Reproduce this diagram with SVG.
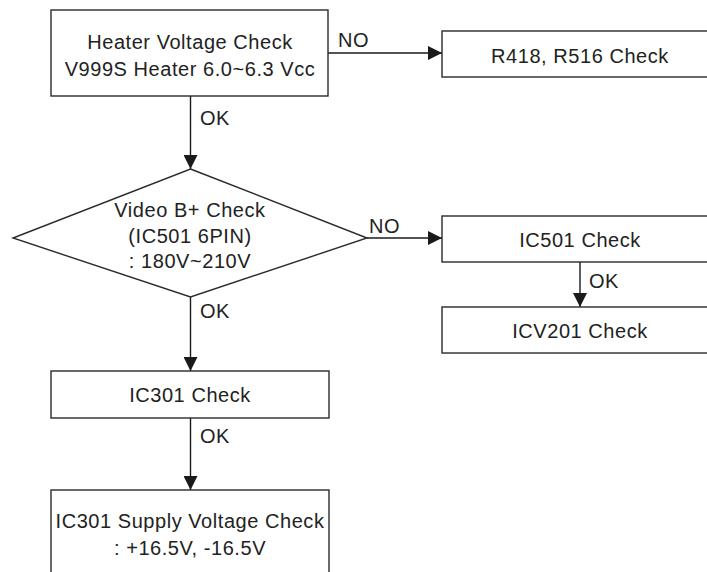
<svg xmlns="http://www.w3.org/2000/svg" width="707" height="572" viewBox="0 0 707 572">
<defs>
<marker id="ah" markerUnits="userSpaceOnUse" markerWidth="14" markerHeight="14" viewBox="0 0 14 14" refX="14" refY="7" orient="auto">
<path d="M0,0 L14,7 L0,14 Z" fill="#1a1a1a"/>
</marker>
<style>
.box{fill:#fff;stroke:#2a2a2a;stroke-width:1.4}
.t{font-family:"Liberation Sans",Arial,sans-serif;font-size:20px;letter-spacing:0.55px;fill:#222;text-anchor:middle}
.l{font-family:"Liberation Sans",Arial,sans-serif;font-size:20px;letter-spacing:0.55px;fill:#222}
.c{stroke:#1a1a1a;stroke-width:1.4;fill:none;marker-end:url(#ah)}
</style>
</defs>
<rect width="707" height="572" fill="#fff"/>
<g id="connectors">
<line class="c" x1="328" y1="53" x2="442" y2="53"/>
<line class="c" x1="190.5" y1="96" x2="190.5" y2="169"/>
<line class="c" x1="367" y1="238" x2="442" y2="238"/>
<line class="c" x1="580" y1="262" x2="580" y2="307"/>
<line class="c" x1="190.5" y1="297" x2="190.5" y2="371"/>
<line class="c" x1="190.5" y1="418" x2="190.5" y2="490"/>
<text class="l" x="338" y="47">NO</text>
<text class="l" x="200" y="125">OK</text>
<text class="l" x="369" y="233">NO</text>
<text class="l" x="589" y="288">OK</text>
<text class="l" x="200" y="318">OK</text>
<text class="l" x="200" y="443">OK</text>
</g>
<g id="heater">
<rect class="box" x="51" y="10" width="277" height="86"/>
<text class="t" x="190" y="49">Heater Voltage Check</text>
<text class="t" x="190" y="76">V999S Heater 6.0~6.3 Vcc</text>
</g>
<g id="r418">
<rect class="box" x="442" y="31" width="277" height="46"/>
<text class="t" x="580" y="63">R418, R516 Check</text>
</g>
<g id="videob">
<polygon class="box" points="190.5,169 367,238 190.5,297 13,238"/>
<text class="t" x="190" y="217">Video B+ Check</text>
<text class="t" x="190" y="243">(IC501 6PIN)</text>
<text class="t" x="190" y="268">: 180V~210V</text>
</g>
<g id="ic501">
<rect class="box" x="442" y="216" width="277" height="46"/>
<text class="t" x="580" y="247">IC501 Check</text>
</g>
<g id="icv201">
<rect class="box" x="442" y="307" width="277" height="46"/>
<text class="t" x="580" y="338">ICV201 Check</text>
</g>
<g id="ic301">
<rect class="box" x="51" y="371" width="278" height="47"/>
<text class="t" x="190" y="402">IC301 Check</text>
</g>
<g id="ic301supply">
<rect class="box" x="51" y="490" width="278" height="100"/>
<text class="t" x="190" y="528">IC301 Supply Voltage Check</text>
<text class="t" x="190" y="555">: +16.5V, -16.5V</text>
</g>
</svg>
